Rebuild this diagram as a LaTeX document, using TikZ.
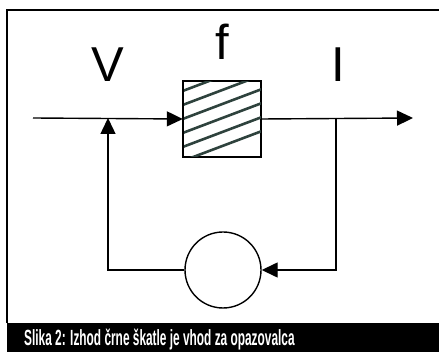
\documentclass[tikz,border=0pt]{standalone}
\usepackage{fontspec}
\setmainfont{Liberation Sans}
\newfontfamily\capfont[FakeStretch=0.54]{Liberation Sans Bold}
\usetikzlibrary{arrows.meta,positioning}
\definecolor{hatchcol}{HTML}{2E423D}
\tikzset{
    signal/.style={line width=1.4pt, -{Triangle[length=16pt,width=15pt]}},
    wire/.style={line width=1.4pt},
    bigletter/.style={font=\fontsize{49}{50}\selectfont, anchor=base, inner sep=0pt},
}
\begin{document}
\begin{tikzpicture}[x=1pt, y=-1pt]
    \useasboundingbox (0,0) rectangle (439,352);

    % Okvir in napis
    \draw[line width=1.3pt] (439,10) -- (7,10) -- (7,323);
    \fill[black] (7,323) rectangle (439,352);
    \node[anchor=base west, text=white, font=\capfont\fontsize{22}{24}\selectfont, inner sep=0pt]
        (caption) at (24,346) {Slika 2: Izhod črne škatle je vhod za opazovalca};

    % Crna skatla (srafirana)
    \node[draw, line width=1.4pt, minimum width=77pt, minimum height=76pt, inner sep=0pt]
        (box) at (222,119) {};
    \begin{scope}
        \clip (box.south west) rectangle (box.north east);
        \foreach \k in {0,...,10}
            \draw[hatchcol, line width=2.6pt] (180,{162-14*\k}) -- ++(90,-34);
    \end{scope}
    \draw[line width=1.4pt] (box.south west) rectangle (box.north east);

    % Opazovalec
    \node[draw, circle, line width=1.4pt, minimum size=76pt, inner sep=0pt]
        (obs) at (223,270) {};

    % Tocke
    \coordinate (in)  at (33,118);
    \coordinate (out) at (413,118);
    \coordinate (jl)  at (108,118);
    \coordinate (jr)  at (336,118);
    \coordinate (bl)  at (108,270);
    \coordinate (br)  at (336,270);

    % Povezave
    \draw[signal] (in) -- (box.west);
    \draw[signal] (box.east) -- (out);
    \draw[signal] (jr) -- (br) -- (obs.east);
    \draw[signal] (obs.west) -- (bl) -- (jl);

    % Oznake
    \node[bigletter] (V) at (108,82) {V};
    \node[bigletter] (f) at (222,60) {f};
    \node[bigletter] (I) at (338,82) {I};
\end{tikzpicture}
\end{document}
